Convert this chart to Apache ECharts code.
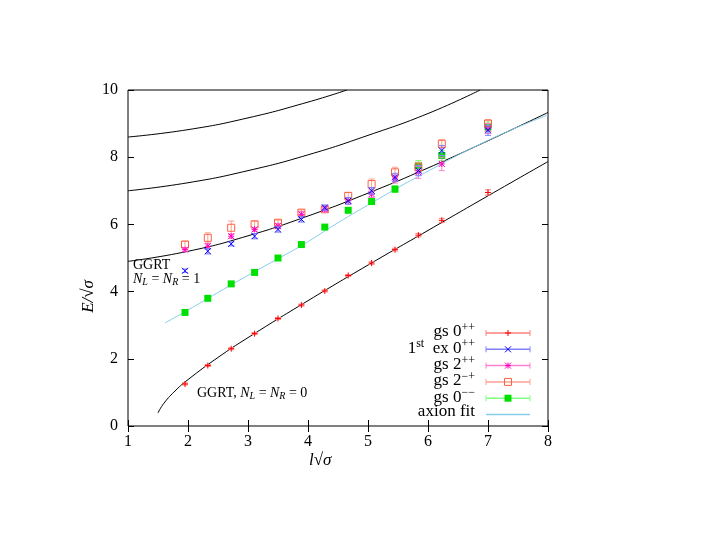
<!DOCTYPE html>
<html>
<head>
<meta charset="utf-8">
<script src="https://cdn.jsdelivr.net/npm/echarts@6/dist/echarts.min.js"></script>
<style>html,body{margin:0;background:#fff}#main{width:705px;height:545px}</style>
</head>
<body>
<div id="main"></div>
<script>
var lVals = [1.95, 2.33, 2.72, 3.11, 3.5, 3.89, 4.28, 4.67, 5.06, 5.45, 5.84, 6.23, 7.0];
var gs0pp = [1.25, 1.8, 2.3, 2.75, 3.2, 3.6, 4.02, 4.48, 4.85, 5.25, 5.68, 6.12, 6.95];
var gs0ppErr = [0.03, 0.03, 0.03, 0.03, 0.03, 0.03, 0.03, 0.03, 0.04, 0.04, 0.05, 0.06, 0.08];
var ex0pp = [4.62, 5.2, 5.42, 5.65, 5.85, 6.15, 6.5, 6.7, 7.0, 7.4, 7.6, 8.2, 8.8];
var ex0ppErr = [0.05, 0.08, 0.06, 0.08, 0.08, 0.08, 0.08, 0.1, 0.1, 0.12, 0.15, 0.15, 0.15];
var gs2pp = [5.25, 5.35, 5.65, 5.85, 5.95, 6.3, 6.45, 6.7, 6.9, 7.35, 7.55, 7.8, 8.85];
var gs2ppErr = [0.05, 0.08, 0.06, 0.06, 0.08, 0.08, 0.08, 0.1, 0.1, 0.12, 0.18, 0.2, 0.15];
var gs2mp = [5.4, 5.6, 5.9, 6.0, 6.05, 6.35, 6.45, 6.85, 7.2, 7.55, 7.7, 8.4, 9.0];
var gs2mpErr = [0.1, 0.15, 0.2, 0.1, 0.08, 0.08, 0.08, 0.1, 0.15, 0.15, 0.15, 0.12, 0.12];
var gs0mm = [3.38, 3.8, 4.23, 4.57, 5.0, 5.4, 5.92, 6.42, 6.68, 7.05, 7.75, 8.05, 8.9];
var gs0mmErr = [0.04, 0.04, 0.05, 0.05, 0.05, 0.08, 0.05, 0.06, 0.08, 0.1, 0.15, 0.15, 0.15];

var ggrt0 = [[1.5, 0.39], [1.6, 0.68], [1.8, 1.07], [2, 1.38], [2.5, 2.04], [3, 2.63], [4, 3.73], [5, 4.79], [6, 5.82], [7, 6.85], [8, 7.87]];
var ggrt1 = [[1, 4.9], [2, 5.2], [3, 5.66], [4, 6.25], [5, 6.93], [6, 7.68], [7, 8.49], [8, 9.33]];
var ggrt2 = [[1, 7.0], [2, 7.24], [3, 7.6], [4, 8.07], [5, 8.65], [6, 9.3], [6.87, 10]];
var ggrt3 = [[1, 8.6], [2, 8.82], [3, 9.17], [4, 9.64], [4.65, 10]];
var axionFit = [[1.62, 3.07], [1.95, 3.4], [2.72, 4.2], [3.5, 4.98], [3.91, 5.39], [4.5, 6.05], [5.09, 6.67], [5.84, 7.43], [7, 8.5], [8, 9.26]];

var serif = 'Liberation Serif';
var chart = echarts.init(document.getElementById('main'));

function drawMark(type, x, y, color) {
    var s = 3, st = {stroke: color, lineWidth: 1, fill: 'none'};
    if (type === 'plus') return [
        {type: 'line', shape: {x1: x - s, y1: y, x2: x + s, y2: y}, style: st},
        {type: 'line', shape: {x1: x, y1: y - s, x2: x, y2: y + s}, style: st}];
    if (type === 'cross') return [
        {type: 'line', shape: {x1: x - s, y1: y - s, x2: x + s, y2: y + s}, style: st},
        {type: 'line', shape: {x1: x - s, y1: y + s, x2: x + s, y2: y - s}, style: st}];
    if (type === 'star') return drawMark('plus', x, y, color).concat(drawMark('cross', x, y, color));
    if (type === 'open') return [{type: 'rect', shape: {x: x - 3.5, y: y - 3.5, width: 7, height: 7}, style: st}];
    return [{type: 'rect', shape: {x: x - 3.5, y: y - 3.5, width: 7, height: 7}, style: {fill: color}}];
}

function errSeries(vals, errs, color, barColor, type) {
    var data = [];
    for (var i = 0; i < lVals.length; i++) data.push([lVals[i], vals[i], errs[i]]);
    return {
        type: 'custom', data: data, z: 5,
        renderItem: function (params, api) {
            var p = api.coord([api.value(0), api.value(1)]);
            var hi = api.coord([api.value(0), api.value(1) + api.value(2)]);
            var lo = api.coord([api.value(0), api.value(1) - api.value(2)]);
            var st = {stroke: barColor, lineWidth: 1};
            var ch = [
                {type: 'line', shape: {x1: p[0], y1: hi[1], x2: p[0], y2: lo[1]}, style: st},
                {type: 'line', shape: {x1: p[0] - 3, y1: hi[1], x2: p[0] + 3, y2: hi[1]}, style: st},
                {type: 'line', shape: {x1: p[0] - 3, y1: lo[1], x2: p[0] + 3, y2: lo[1]}, style: st}
            ].concat(drawMark(type, p[0], p[1], color));
            return {type: 'group', children: ch};
        }
    };
}

function curve(data, color) {
    return {type: 'line', data: data, smooth: true, showSymbol: false, silent: true,
        lineStyle: {color: color, width: 1}, z: 3};
}

// legend drawn as graphic, gnuplot style
var legendItems = [
    ['gs 0{sup|++}', '#ff0000', '#ff8080', 'plus'],
    ['1{sup|st}  ex 0{sup|++}', '#0000ff', '#8080ff', 'cross'],
    ['gs 2{sup|++}', '#ff00c0', '#ff80d0', 'star'],
    ['gs 2{sup|−+}', '#ff6040', '#ffa090', 'open'],
    ['gs 0{sup|−−}', '#00e000', '#80ff80', 'fill'],
    ['axion fit', null, '#87ceeb', null]
];
var graphics = [];
legendItems.forEach(function (it, i) {
    var y = 333 + i * 16.3;
    graphics.push({type: 'text', right: 705 - 475, top: y - 11,
        style: {text: it[0], font: '17px ' + serif, fill: '#000', textAlign: 'right',
            rich: {sup: {fontSize: 12, verticalAlign: 'top', padding: [0, 0, 8, 0], fontFamily: serif}}}});
    graphics.push({type: 'line', shape: {x1: 486, y1: y, x2: 530, y2: y}, style: {stroke: it[2], lineWidth: 1.5}});
    if (it[1]) {
        graphics.push({type: 'line', shape: {x1: 486, y1: y - 3, x2: 486, y2: y + 3}, style: {stroke: it[2]}});
        graphics.push({type: 'line', shape: {x1: 530, y1: y - 3, x2: 530, y2: y + 3}, style: {stroke: it[2]}});
        graphics.push({type: 'group', children: drawMark(it[3], 508, y, it[1])});
    }
});
var subRich = {i: {fontStyle: 'italic', fontSize: 14, fontFamily: serif}, s: {fontStyle: 'italic', fontSize: 10, fontFamily: serif, verticalAlign: 'bottom', padding: [6, 0, 0, 0]}};
graphics.push({type: 'text', left: 133, top: 258, style: {text: 'GGRT', font: '14px ' + serif, fill: '#000'}});
graphics.push({type: 'text', left: 133, top: 272, style: {text: '{i|N}{s|L} = {i|N}{s|R} = 1', font: '14px ' + serif, fill: '#000', rich: subRich}});
graphics.push({type: 'text', left: 197, top: 386, style: {text: 'GGRT, {i|N}{s|L} = {i|N}{s|R} = 0', font: '14px ' + serif, fill: '#000', rich: subRich}});
graphics.push({type: 'text', left: 309, top: 452, style: {text: 'l√σ', font: 'italic 17px ' + serif, fill: '#000'}});
graphics.push({type: 'text', left: 80, top: 280, rotation: Math.PI / 2, style: {text: 'E/√σ', font: 'italic 17px ' + serif, fill: '#000'}});

var tickAxis = {
    axisLine: {show: false},
    axisTick: {inside: true, length: 6, lineStyle: {color: '#000'}},
    splitLine: {show: false}
};
var option = {
    animation: false,
    backgroundColor: '#fff',
    grid: {left: 128, right: 157, top: 90, bottom: 119, show: true, borderColor: '#000', borderWidth: 1},
    xAxis: [
        Object.assign({type: 'value', min: 1, max: 8, interval: 1,
            axisLabel: {color: '#000', fontFamily: serif, fontSize: 16, margin: 8}}, tickAxis),
        Object.assign({type: 'value', min: 1, max: 8, interval: 1, position: 'top',
            axisLabel: {show: false}}, tickAxis)
    ],
    yAxis: [
        Object.assign({type: 'value', min: 0, max: 10, interval: 2,
            axisLabel: {color: '#000', fontFamily: serif, fontSize: 16, margin: 10}}, tickAxis),
        Object.assign({type: 'value', min: 0, max: 10, interval: 2, position: 'right',
            axisLabel: {show: false}}, tickAxis)
    ],
    graphic: graphics,
    series: [
        curve(ggrt0, '#000'), curve(ggrt1, '#000'), curve(ggrt2, '#000'), curve(ggrt3, '#000'),
        curve(axionFit, '#87ceeb'),
        errSeries(gs0mm, gs0mmErr, '#00e000', '#80ff80', 'fill'),
        errSeries(gs2mp, gs2mpErr, '#ff6040', '#ffa090', 'open'),
        errSeries(gs2pp, gs2ppErr, '#ff00c0', '#ff80d0', 'star'),
        errSeries(ex0pp, ex0ppErr, '#0000ff', '#8080ff', 'cross'),
        errSeries(gs0pp, gs0ppErr, '#ff0000', '#ff8080', 'plus')
    ]
};
chart.setOption(option);
</script>
</body>
</html>
